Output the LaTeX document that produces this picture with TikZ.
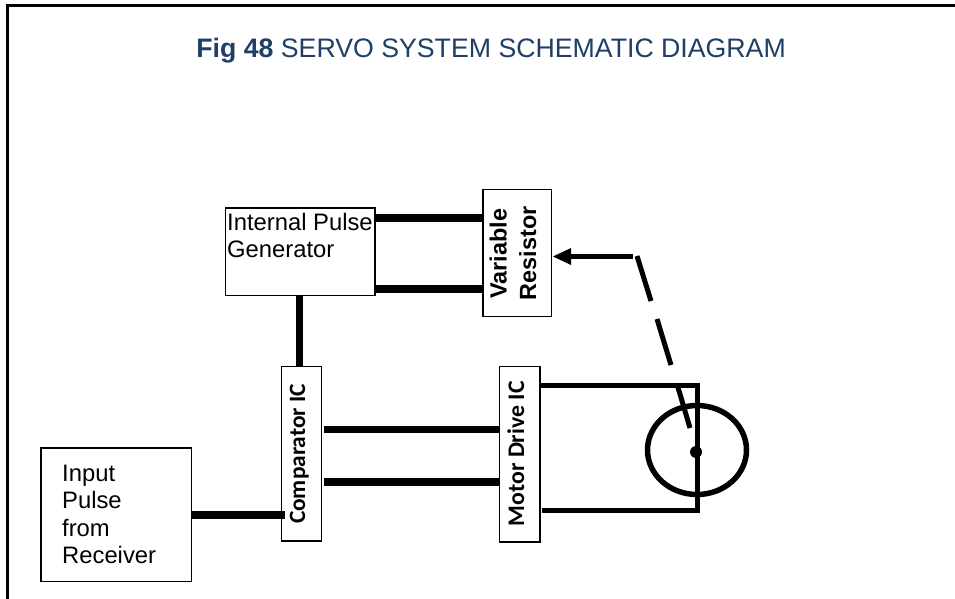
\documentclass[tikz,border=0pt]{standalone}
\usepackage{fontspec}
\usetikzlibrary{shapes.geometric}
\setmainfont{Liberation Sans}
\newfontfamily\carl{Carlito}
\definecolor{titleblue}{HTML}{1F3F66}
\begin{document}
\begin{tikzpicture}[x=1pt,y=-1pt,
 box/.style={draw,line width=1.5pt,inner sep=0pt,outer sep=0pt,anchor=north west},
 thick line/.style={line width=7.7pt},
 wire/.style={line width=5pt},
 lab/.style={font=\fontsize{23.8}{28}\selectfont,inner sep=0pt,anchor=base west},
 vlab/.style={font=\carl\bfseries\fontsize{23.4}{28}\selectfont,inner sep=0pt,rotate=90,anchor=base},
 vlabb/.style={font=\bfseries\fontsize{23.4}{28}\selectfont,inner sep=0pt,rotate=90,anchor=base}]
\useasboundingbox (0,0) rectangle (955,599);
\fill[white] (0,0) rectangle (955,599);
\draw[line width=3pt] (7.7,599) -- (7.7,5.5) -- (955,5.5);
\node[inner sep=0pt,text=titleblue,font=\fontsize{26.7}{30}\selectfont,anchor=base east] (title) at (786,58) {\textbf{Fig 48} SERVO SYSTEM SCHEMATIC DIAGRAM};
\node[box,minimum width=149.7pt,minimum height=87.3pt] (ipg) at (225.5,208) {};
\node[box,minimum width=68.7pt,minimum height=127pt] (vr) at (482.8,189.5) {};
\node[box,minimum width=40pt,minimum height=174.7pt] (comp) at (281.5,366.5) {};
\node[box,minimum width=40.5pt,minimum height=175.5pt] (motor) at (499.5,366.5) {};
\node[box,minimum width=150.5pt,minimum height=133.5pt] (input) at (41,448) {};
\node[lab] (t1) at (227,230.7) {Internal Pulse};
\node[lab] (t2) at (227,257.7) {Generator};
\node[lab] (i1) at (62,481) {Input};
\node[lab] (i2) at (62,508.5) {Pulse};
\node[lab] (i3) at (62,536) {from};
\node[lab] (i4) at (62,563.5) {Receiver};
\node[vlabb] (v1) at (506.7,253.7) {Variable};
\node[vlabb] (v2) at (536,253.3) {Resistor};
\node[vlab] (c) at (305,454) {Comparator IC};
\node[vlab,font=\carl\bfseries\fontsize{23.8}{28}\selectfont] (m) at (524,453.8) {Motor Drive IC};
\draw[thick line] (ipg.east |- 0,218) -- (vr.west |- 0,218);
\draw[thick line] (ipg.east |- 0,289) -- (vr.west |- 0,289);
\draw[thick line] (ipg.south -| 299.5,0) -- (comp.north -| 299.5,0);
\draw[thick line] (324,429.5) -- (motor.west |- 0,429.5);
\draw[thick line] (324,482) -- (motor.west |- 0,482);
\draw[thick line,line width=8.3pt] (input.east |- 0,514.7) -- (285,514.7);
\coordinate (mt) at (540,385);
\coordinate (mb) at (542,510.5);
\coordinate (cnr1) at (697.5,385);
\coordinate (cnr2) at (697.5,510.5);
\draw[wire,line join=miter] (mt) -- (cnr1) -- (cnr2) -- (mb);
\node[draw,ellipse,line width=5.5pt,outer sep=0pt,minimum width=99pt,minimum height=89pt,inner sep=0pt] (mot) at (697,450) {};
\fill (696,452) circle (6pt) coordinate (pivot);
\draw[line width=5pt] (690,428) -- (677,384);
\draw[line width=5pt] (671,365) -- (657,319);
\draw[line width=5pt] (651,301) -- (637,256);
\draw[line width=5pt] (633,256.5) -- (568,256.5);
\fill (553,256.5) -- (571,248) -- (571,265) -- cycle;
\end{tikzpicture}
\end{document}
